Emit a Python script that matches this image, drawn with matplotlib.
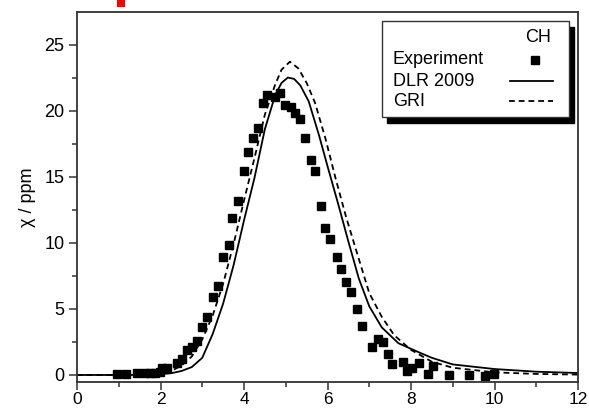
import matplotlib
matplotlib.use('Agg')
import matplotlib.pyplot as plt
from matplotlib.patches import Rectangle
from matplotlib.ticker import MultipleLocator

plt.rcParams['font.family'] = ['Liberation Sans', 'DejaVu Sans']

# experiment points
exp_x = [0.96, 1.17, 1.44, 1.63, 1.75, 1.87, 1.99, 2.03, 2.16, 2.40, 2.51, 2.63, 2.75, 2.87,
         2.99, 3.11, 3.26, 3.38, 3.50, 3.64, 3.71, 3.86, 4.00, 4.10, 4.22, 4.34, 4.46, 4.55,
         4.74, 4.86, 4.98, 5.12, 5.22, 5.34, 5.45, 5.60, 5.71, 5.84, 5.95, 6.06, 6.23, 6.33,
         6.44, 6.56, 6.71, 6.83, 7.07, 7.20, 7.32, 7.44, 7.54, 7.81, 7.90, 8.03, 8.18, 8.41,
         8.53, 8.91, 9.39, 9.77, 9.99]
exp_y = [0.08, 0.08, 0.15, 0.15, 0.15, 0.15, 0.2, 0.5, 0.5, 0.9, 1.2, 1.9, 2.1, 2.6,
         3.6, 4.4, 5.9, 6.7, 8.9, 9.8, 11.9, 13.2, 15.4, 16.9, 17.9, 18.7, 20.6, 21.2,
         21.0, 21.3, 20.4, 20.3, 19.8, 19.4, 17.9, 16.3, 15.4, 12.8, 11.1, 10.3, 8.9, 8.0,
         7.0, 6.3, 5.0, 3.7, 2.1, 2.7, 2.5, 1.6, 0.8, 1.0, 0.3, 0.5, 0.9, 0.05,
         0.7, 0.0, 0.0, -0.1, 0.1]

# DLR 2009 model (solid)
dlr_x = [0, 1, 1.5, 2, 2.25, 2.5, 2.75, 3.0, 3.25, 3.5, 3.75, 4.0, 4.25, 4.5, 4.75, 4.9,
         5.05, 5.2, 5.35, 5.55, 5.8, 6.0, 6.25, 6.5, 6.75, 7.0, 7.3, 7.7, 8.2, 8.5, 9.0,
         10, 11, 12]
dlr_y = [0, 0, 0.01, 0.06, 0.13, 0.3, 0.6, 1.3, 3.1, 5.4, 8.3, 11.7, 14.9, 18.6, 21.2, 22.1,
         22.5, 22.4, 21.9, 20.7, 18.1, 15.8, 13.0, 10.1, 7.3, 5.2, 3.6, 2.4, 1.7, 1.3, 0.8,
         0.45, 0.25, 0.15]

# GRI model (dashed)
gri_x = [0, 1, 1.5, 2, 2.25, 2.5, 2.75, 3.0, 3.25, 3.5, 3.75, 4.0, 4.25, 4.5, 4.75, 4.9,
         5.1, 5.3, 5.5, 5.7, 5.95, 6.2, 6.45, 6.7, 7.0, 7.3, 7.6, 8.0, 8.5, 9.0, 10, 11, 12]
gri_y = [0, 0, 0.02, 0.12, 0.3, 0.7, 1.4, 2.7, 4.5, 6.9, 9.9, 13.2, 16.4, 19.7, 22.0, 23.1,
         23.7, 23.2, 22.1, 20.6, 17.9, 14.8, 11.9, 9.3, 6.2, 4.4, 3.0, 1.9, 1.0, 0.55, 0.2,
         0.08, 0.03]

fig = plt.figure(figsize=(5.89, 4.09), dpi=100)
ax = fig.add_axes([77 / 589, 27 / 409, 501 / 589, 370 / 409])

ax.plot(exp_x, exp_y, linestyle='none', marker='s', markersize=6, color='black')
ax.plot(dlr_x, dlr_y, color='black', linewidth=1.3)
ax.plot(gri_x, gri_y, color='black', linewidth=1.3, linestyle=(0, (3.2, 2.2)))

ax.set_xlim(0, 12)
ax.set_ylim(-0.53, 27.46)
ax.xaxis.set_major_locator(MultipleLocator(2))
ax.xaxis.set_minor_locator(MultipleLocator(1))
ax.yaxis.set_major_locator(MultipleLocator(5))
ax.yaxis.set_minor_locator(MultipleLocator(2.5))
ax.tick_params(which='major', direction='out', length=6, width=1.1, color='#333333',
               labelsize=13, pad=3)
ax.tick_params(axis='x', which='major', labelsize=12.5, pad=1)
ax.tick_params(which='minor', direction='out', length=3.5, width=1.1, color='#333333')
for sp in ax.spines.values():
    sp.set_linewidth(1.3)
    sp.set_color('#333333')
ax.set_ylabel('χ / ppm', fontsize=13, labelpad=6)

# legend box with hard black shadow
lx0, lx1 = (382 - 77) / 501, (569 - 77) / 501
ly0, ly1 = (382 - 117) / 370, (382 - 21) / 370
dx, dy = 5 / 501, 6 / 370
ax.add_patch(Rectangle((lx0 + dx, ly0 - dy), lx1 - lx0, ly1 - ly0, transform=ax.transAxes,
                       facecolor='black', edgecolor='black', zorder=5))
ax.add_patch(Rectangle((lx0, ly0), lx1 - lx0, ly1 - ly0, transform=ax.transAxes,
                       facecolor='white', edgecolor='#333333', linewidth=1.0, zorder=6))


def ax_pt(px, py):
    return (px - 77) / 501, (382 - py) / 370


ax.text(*ax_pt(538, 37), 'CH', transform=ax.transAxes, ha='center', va='center',
        fontsize=13, zorder=7)
for label, py in [('Experiment', 60), ('DLR 2009', 81), ('GRI', 101)]:
    ax.text(*ax_pt(393, py), label, transform=ax.transAxes, ha='left', va='center',
            fontsize=13, zorder=7)
mx, my = ax_pt(535, 60)
ax.plot([mx], [my], marker='s', markersize=6, color='black', transform=ax.transAxes,
        zorder=7, clip_on=False)
sx0, sy = ax_pt(510, 81)
sx1, _ = ax_pt(553, 81)
ax.plot([sx0, sx1], [sy, sy], color='black', linewidth=1.3, transform=ax.transAxes, zorder=7)
gx0, gy = ax_pt(509, 101)
gx1, _ = ax_pt(553, 101)
ax.plot([gx0, gx1], [gy, gy], color='black', linewidth=1.3, linestyle=(0, (3.2, 2.2)),
        transform=ax.transAxes, zorder=7)

# red mark above the frame
fig.add_artist(Rectangle((117 / 589, 1 - 7 / 409), 8 / 589, 7 / 409,
                         transform=fig.transFigure, facecolor='red', edgecolor='none'))

fig.savefig('out.png', dpi=100)
